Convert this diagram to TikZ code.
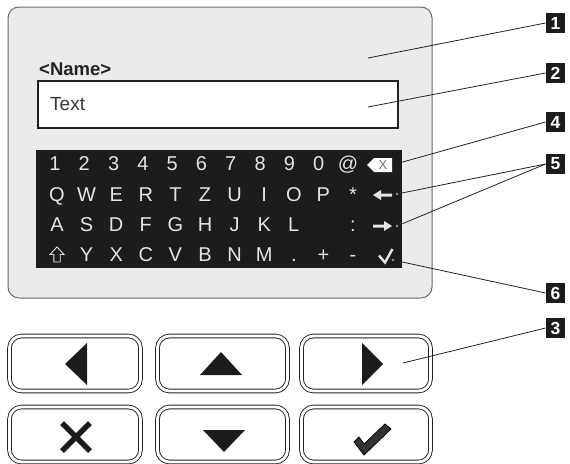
\documentclass[tikz,border=0pt]{standalone}
\usepackage{fontspec}
\setmainfont{Liberation Sans}
\definecolor{panelfill}{HTML}{EBEBED}
\definecolor{paneldraw}{HTML}{6A6A6A}
\definecolor{kbfill}{HTML}{1C1C1C}
\definecolor{keytext}{HTML}{E4E4E4}
\definecolor{inkdark}{HTML}{222222}
\begin{document}
\begin{tikzpicture}[x=1pt,y=-1pt,
  key/.style={anchor=base,text=keytext,inner sep=0pt,font=\fontsize{20}{20}\selectfont},
  numbox/.style={fill=kbfill,text=white,minimum width=19.5pt,minimum height=20.5pt,inner sep=0pt,font=\fontsize{17.5}{17.5}\selectfont\bfseries},
  btn/.style={draw=inkdark,line width=0.9pt,double=white,double distance=2.8pt,rounded corners=12pt,inner sep=0pt},
  conn/.style={draw=inkdark,line width=0.8pt},
  dotend/.style={fill=white,draw=inkdark,line width=0.5pt},
  icon/.style={fill=kbfill}
]
\useasboundingbox (0,0) rectangle (570,463);
% panel
\draw[fill=panelfill,draw=paneldraw,line width=1pt,rounded corners=11pt] (8,7) rectangle (432,298);
\node[anchor=base west,inner sep=0pt,font=\fontsize{18.5}{18.5}\selectfont\bfseries,text=inkdark] (name) at (39,75) {<Name>};
\draw[fill=white,draw=inkdark,line width=1.2pt] (38,81) rectangle (398,128);
\node[anchor=base west,inner sep=0pt,font=\fontsize{19}{19}\selectfont,text=inkdark!90] (txt) at (50,110) {Text};
% keyboard
\fill[kbfill] (36,150) rectangle (402,268);
\foreach \k [count=\i] in {1,2,3,4,5,6,7,8,9,0,@}
  \node[key] (ra\i) at ({55+29.3*(\i-1)},170) {\k};
\foreach \k [count=\i] in {Q,W,E,R,T,Z,U,I,O,P,*}
  \node[key] (rb\i) at ({57+29.6*(\i-1)},201) {\k};
\foreach \k [count=\i] in {A,S,D,F,G,H,J,K,L}
  \node[key] (rc\i) at ({57+29.6*(\i-1)},231) {\k};
\node[key] (rc11) at (353,231) {:};
\foreach \k [count=\i from 2] in {Y,X,C,V,B,N,M,.,+,-}
  \node[key] (rd\i) at ({57+29.6*(\i-1)},261) {\k};
% shift arrow
\draw[keytext,line width=0.9pt,line join=miter] (57,247) -- (64,254.5) -- (60.2,254.5) -- (60.2,262) -- (53.8,262) -- (53.8,254.5) -- (50,254.5) -- cycle;
% backspace
\fill[white] (367,165) -- (374,158) -- (392,158) -- (392,172) -- (374,172) -- cycle;
\node[inner sep=0pt,font=\fontsize{13}{13}\selectfont,text=black!55] (bsx) at (383,165.5) {X};
% left arrow
\fill[keytext] (373,195) -- (381,190) -- (381,193.5) -- (392,193.5) -- (392,196.5) -- (381,196.5) -- (381,200) -- cycle;
% right arrow
\fill[keytext] (392,226) -- (384,221) -- (384,224.5) -- (373,224.5) -- (373,227.5) -- (384,227.5) -- (384,231) -- cycle;
% check
\draw[keytext,line width=2.4pt,line join=miter] (379,255.5) -- (385,262.5) -- (392.5,249);
% number boxes
\node[numbox] (n1) at (555.5,23) {1};
\node[numbox] (n2) at (555.5,73) {2};
\node[numbox] (n4) at (555.5,122) {4};
\node[numbox] (n5) at (555.5,164) {5};
\node[numbox] (n6) at (555.5,293) {6};
\node[numbox] (n3) at (555.5,328) {3};
% buttons
\node[btn,minimum width=131pt,minimum height=55pt] (b1) at (75,363.5) {};
\node[btn,minimum width=130pt,minimum height=55pt] (b2) at (222.5,363.5) {};
\node[btn,minimum width=129pt,minimum height=55pt] (b3) at (366,363.5) {};
\node[btn,minimum width=131pt,minimum height=55pt] (b4) at (75,434.5) {};
\node[btn,minimum width=130pt,minimum height=55pt] (b5) at (222.5,434.5) {};
\node[btn,minimum width=129pt,minimum height=55pt] (b6) at (366,434.5) {};
% button icons
\fill[icon] (65,364) -- (87,343) -- (87,385) -- cycle;
\fill[icon] (221,352) -- (242,375) -- (200,375) -- cycle;
\fill[icon] (383,364) -- (362,343) -- (362,385) -- cycle;
\draw[kbfill,line width=5.5pt] (62,423) -- (90,451) (90,423) -- (62,451);
\fill[icon] (203,430) -- (245,430) -- (224,452) -- cycle;
\filldraw[fill=black!80,draw=black,line width=0.8pt,line join=round] (354,442) -- (359,437) -- (364,444) -- (385,424) -- (391,429) -- (364,455) -- cycle;
% connector start points
\coordinate (s1) at (368,58);
\coordinate (s2) at (368,107);
\coordinate (s4) at (392,165);
\coordinate (s5a) at (397,194);
\coordinate (s5b) at (397,226);
\coordinate (s6) at (393,260);
\coordinate (s3) at (403,363);
\draw[conn] (s1) -- (n1.west);
\draw[conn] (s2) -- (n2.west);
\draw[conn] (s4) -- (n4.west);
\draw[conn] (s5a) -- (n5.west);
\draw[conn] (s5b) -- (n5.west);
\draw[conn] (s6) -- (n6.west);
\draw[conn] (s3) -- (n3.west);
\draw[dotend] (s5a) circle (1.4pt);
\draw[dotend] (s5b) circle (1.4pt);
\draw[dotend] (s6) circle (1.4pt);
\end{tikzpicture}
\end{document}
